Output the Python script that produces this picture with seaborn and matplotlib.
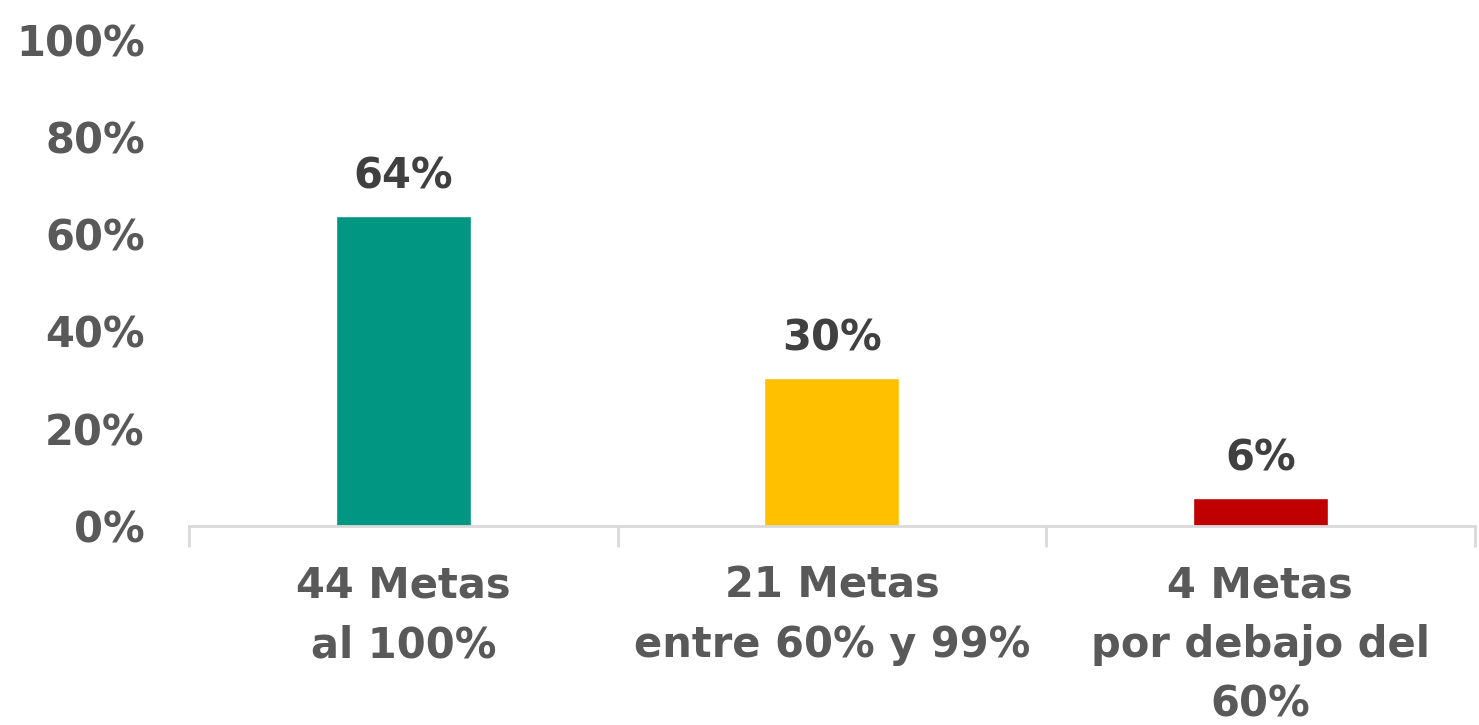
import matplotlib.pyplot as plt
import numpy as np
import pandas as pd
import seaborn as sns
from matplotlib.ticker import FixedLocator, PercentFormatter

categories = ['44 Metas\nal 100%', '21 Metas\nentre 60% y 99%', '4 Metas\npor debajo del\n60%']
metas = [44, 21, 4]
colors = ['#009681', '#FFC000', '#C00000']
y_ticks = [0, 20, 40, 60, 80, 100]

total = sum(metas)
df = pd.DataFrame({'cat': categories, 'pct': [m / total * 100 for m in metas]})

sns.set_style('white')
plt.rcParams['font.family'] = ['DejaVu Sans']

fig = plt.figure(figsize=(14.79, 7.25), dpi=100)
ax = fig.add_axes([0.128, 0.2745, 0.869, 0.671])

sns.barplot(data=df, x='cat', y='pct', hue='cat', palette=colors, legend=False,
            width=0.315, saturation=1, ax=ax)

# data labels above the bars
for i, v in enumerate(df['pct']):
    ax.text(i, v + 3.8, f'{v:.0f}%', ha='center', va='bottom', fontsize=30,
            fontweight='bold', color='#404040')

ax.set_ylim(0, 100)
ax.set_xlim(-0.5, 2.5)
ax.set_yticks(y_ticks)
ax.yaxis.set_major_formatter(PercentFormatter(decimals=0))
ax.set_xlabel('')
ax.set_ylabel('')

for s in ['top', 'right', 'left']:
    ax.spines[s].set_visible(False)
ax.spines['bottom'].set_color('#D9D9D9')
ax.spines['bottom'].set_linewidth(2)

ax.tick_params(axis='y', length=0, labelsize=30, labelcolor='#595959', pad=32)
for lab in ax.get_yticklabels():
    lab.set_fontweight('bold')

# category labels at centers, ticks at boundaries
ax.xaxis.set_major_locator(FixedLocator([-0.5, 0.5, 1.5, 2.5]))
ax.xaxis.set_major_formatter(plt.NullFormatter())
ax.xaxis.set_minor_locator(FixedLocator([0, 1, 2]))
ax.set_xticklabels(categories, minor=True)
ax.tick_params(axis='x', which='major', bottom=True, length=15, width=2,
               color='#D9D9D9', direction='out')
ax.tick_params(axis='x', which='minor', bottom=True, length=0, pad=28,
               labelsize=30, labelcolor='#595959')
for lab in ax.get_xticklabels(minor=True):
    lab.set_fontweight('bold')
    lab.set_linespacing(1.52)
    lab.set_verticalalignment('top')

fig.savefig('out.png', dpi=100)
